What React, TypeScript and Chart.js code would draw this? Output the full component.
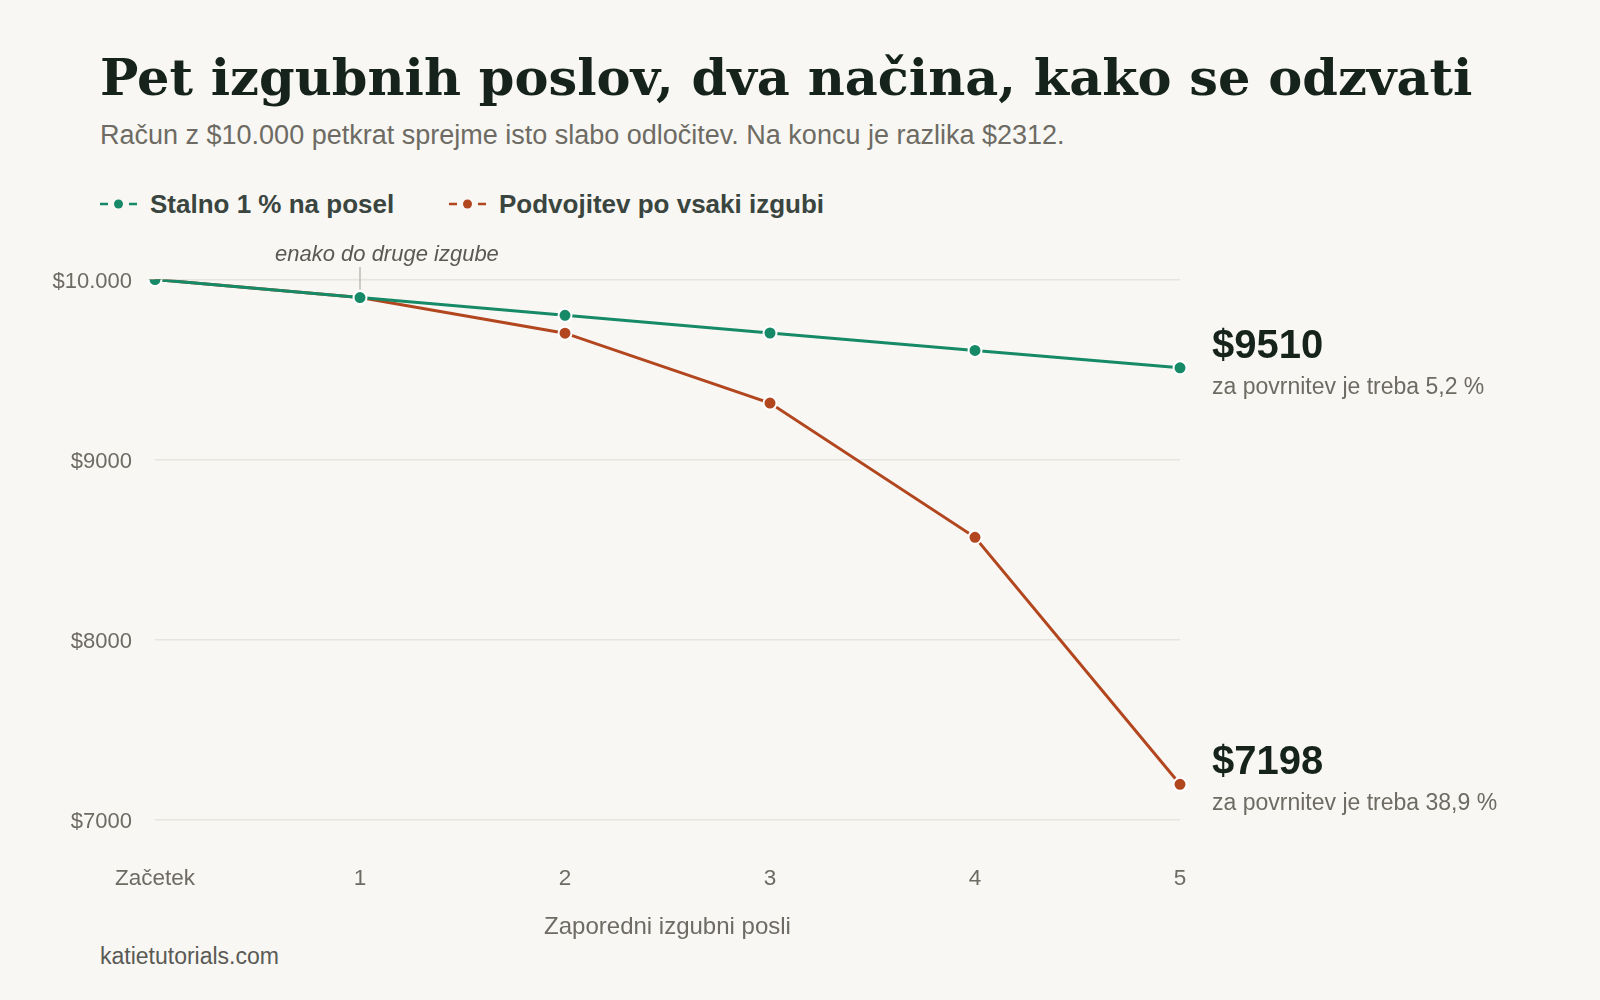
import React, { useEffect, useRef } from 'react'
import Chart from 'chart.js/auto'

const lossSteps = ['Začetek', '1', '2', '3', '4', '5']
const flatRiskBalance = [10000, 9900, 9801, 9703, 9606, 9510]
const doublingBalance = [10000, 9900, 9702, 9314, 8569, 7198]
const yTickValues = [7000, 8000, 9000, 10000]
const recoveryNeeded = ['5,2 %', '38,9 %']
const seriesNames = ['Stalno 1 % na posel', 'Podvojitev po vsaki izgubi']

const GREEN = '#168a67'
const RUST = '#b2461f'
const BG = '#f8f7f3'
const SANS = '"Liberation Sans", Arial, Helvetica, sans-serif'
const CANVAS_TOP = 230

const fmtMoney = (v: number) =>
  v >= 10000 ? '$' + v.toLocaleString('de-DE') : '$' + Math.round(v)

const endLabels = {
  id: 'endLabels',
  afterDatasetsDraw(chart: Chart) {
    const { ctx } = chart
    ctx.save()
    // note above the first loss, where both strategies still agree
    const p1 = chart.getDatasetMeta(0).data[1]
    ctx.strokeStyle = '#bdbbb5'
    ctx.lineWidth = 1.5
    ctx.beginPath()
    ctx.moveTo(p1.x, 267 - CANVAS_TOP)
    ctx.lineTo(p1.x, p1.y - 8)
    ctx.stroke()
    ctx.fillStyle = '#5a5a55'
    ctx.font = `italic 22px ${SANS}`
    ctx.textAlign = 'left'
    ctx.textBaseline = 'alphabetic'
    ctx.fillText('enako do druge izgube', p1.x - 85, 261 - CANVAS_TOP)

    chart.data.datasets.forEach((ds, i) => {
      const meta = chart.getDatasetMeta(i)
      const last = meta.data[meta.data.length - 1]
      const val = ds.data[ds.data.length - 1] as number
      ctx.fillStyle = '#16231d'
      ctx.font = `bold 40px ${SANS}`
      ctx.fillText(fmtMoney(val), last.x + 32, last.y - 10)
      ctx.fillStyle = '#6d6b63'
      ctx.font = `23px ${SANS}`
      ctx.fillText('za povrnitev je treba ' + recoveryNeeded[i], last.x + 32, last.y + 26)
    })
    ctx.restore()
  },
}

const LegendItem: React.FC<{ color: string; label: string; left: number }> = ({ color, label, left }) => (
  <div style={{ position: 'absolute', left, top: 190, display: 'flex', alignItems: 'center', height: 28 }}>
    <svg width={37} height={12} style={{ marginRight: 13 }}>
      <line x1={0} y1={6} x2={8} y2={6} stroke={color} strokeWidth={2.5} />
      <circle cx={18.5} cy={6} r={4.5} fill={color} />
      <line x1={29} y1={6} x2={37} y2={6} stroke={color} strokeWidth={2.5} />
    </svg>
    <span style={{ font: `bold 26px ${SANS}`, color: '#3a4540', lineHeight: '28px' }}>{label}</span>
  </div>
)

const App: React.FC = () => {
  const canvasRef = useRef<HTMLCanvasElement | null>(null)
  const chartRef = useRef<Chart | null>(null)

  useEffect(() => {
    document.body.style.margin = '0'
    if (!canvasRef.current) return
    if (chartRef.current) chartRef.current.destroy()
    const ctx = canvasRef.current.getContext('2d')
    if (!ctx) return

    const style = (color: string) => ({
      borderColor: color,
      backgroundColor: color,
      pointBackgroundColor: color,
      pointBorderColor: '#ffffff',
      pointBorderWidth: 2,
      pointRadius: 6.5,
      borderWidth: 3,
      tension: 0,
      fill: false,
    })

    chartRef.current = new Chart(ctx, {
      type: 'line',
      data: {
        labels: lossSteps,
        datasets: [
          { label: seriesNames[0], data: flatRiskBalance, ...style(GREEN) },
          { label: seriesNames[1], data: doublingBalance, ...style(RUST) },
        ],
      },
      options: {
        animation: false,
        responsive: false,
        maintainAspectRatio: false,
        layout: { padding: { top: 49.5, right: 420, bottom: 0, left: 0 } },
        plugins: { legend: { display: false }, tooltip: { enabled: false } },
        scales: {
          x: {
            offset: false,
            grid: { display: false, drawTicks: false },
            border: { display: false },
            ticks: {
              color: '#6d6b63',
              font: { family: SANS, size: 22.5 },
              padding: 45,
              maxRotation: 0,
              autoSkip: false,
            },
            title: {
              display: true,
              text: 'Zaporedni izgubni posli',
              color: '#6d6b63',
              font: { family: SANS, size: 24 },
              padding: { top: 23, bottom: 0 },
            },
            afterFit: (s: any) => {
              s.height = 122
            },
          },
          y: {
            min: 7000,
            max: 10000,
            grid: { color: '#e6e4de', lineWidth: 1.5, drawTicks: false },
            border: { display: false },
            ticks: {
              color: '#6d6b63',
              font: { family: SANS, size: 22 },
              padding: 23,
              labelOffset: 2,
              callback: (v: any) => fmtMoney(Number(v)),
            },
            afterBuildTicks: (s: any) => {
              s.ticks = yTickValues.map((value) => ({ value }))
            },
            afterFit: (s: any) => {
              s.width = 155
            },
          },
        },
      },
      plugins: [endLabels],
    })

    return () => {
      if (chartRef.current) chartRef.current.destroy()
      chartRef.current = null
    }
  }, [])

  return (
    <div style={{ position: 'relative', width: 1600, height: 1000, background: BG, overflow: 'hidden' }}>
      <div
        style={{
          position: 'absolute',
          left: 100,
          top: 52,
          font: 'bold 51px "DejaVu Serif", Georgia, serif',
          lineHeight: '51px',
          color: '#16231d',
          whiteSpace: 'nowrap',
        }}
      >
        Pet izgubnih poslov, dva načina, kako se odzvati
      </div>
      <div
        style={{
          position: 'absolute',
          left: 100,
          top: 122,
          font: `27px ${SANS}`,
          lineHeight: '27px',
          color: '#6d6b63',
          whiteSpace: 'nowrap',
        }}
      >
        Račun z $10.000 petkrat sprejme isto slabo odločitev. Na koncu je razlika $2312.
      </div>
      <LegendItem color={GREEN} label={seriesNames[0]} left={100} />
      <LegendItem color={RUST} label={seriesNames[1]} left={449} />
      <canvas
        ref={canvasRef}
        width={1600}
        height={712}
        style={{ position: 'absolute', left: 0, top: CANVAS_TOP, width: 1600, height: 712 }}
      />
      <div
        style={{
          position: 'absolute',
          left: 100,
          top: 945,
          font: `23px ${SANS}`,
          lineHeight: '23px',
          color: '#5a5a55',
          whiteSpace: 'nowrap',
        }}
      >
        katietutorials.com
      </div>
    </div>
  )
}

export default App
